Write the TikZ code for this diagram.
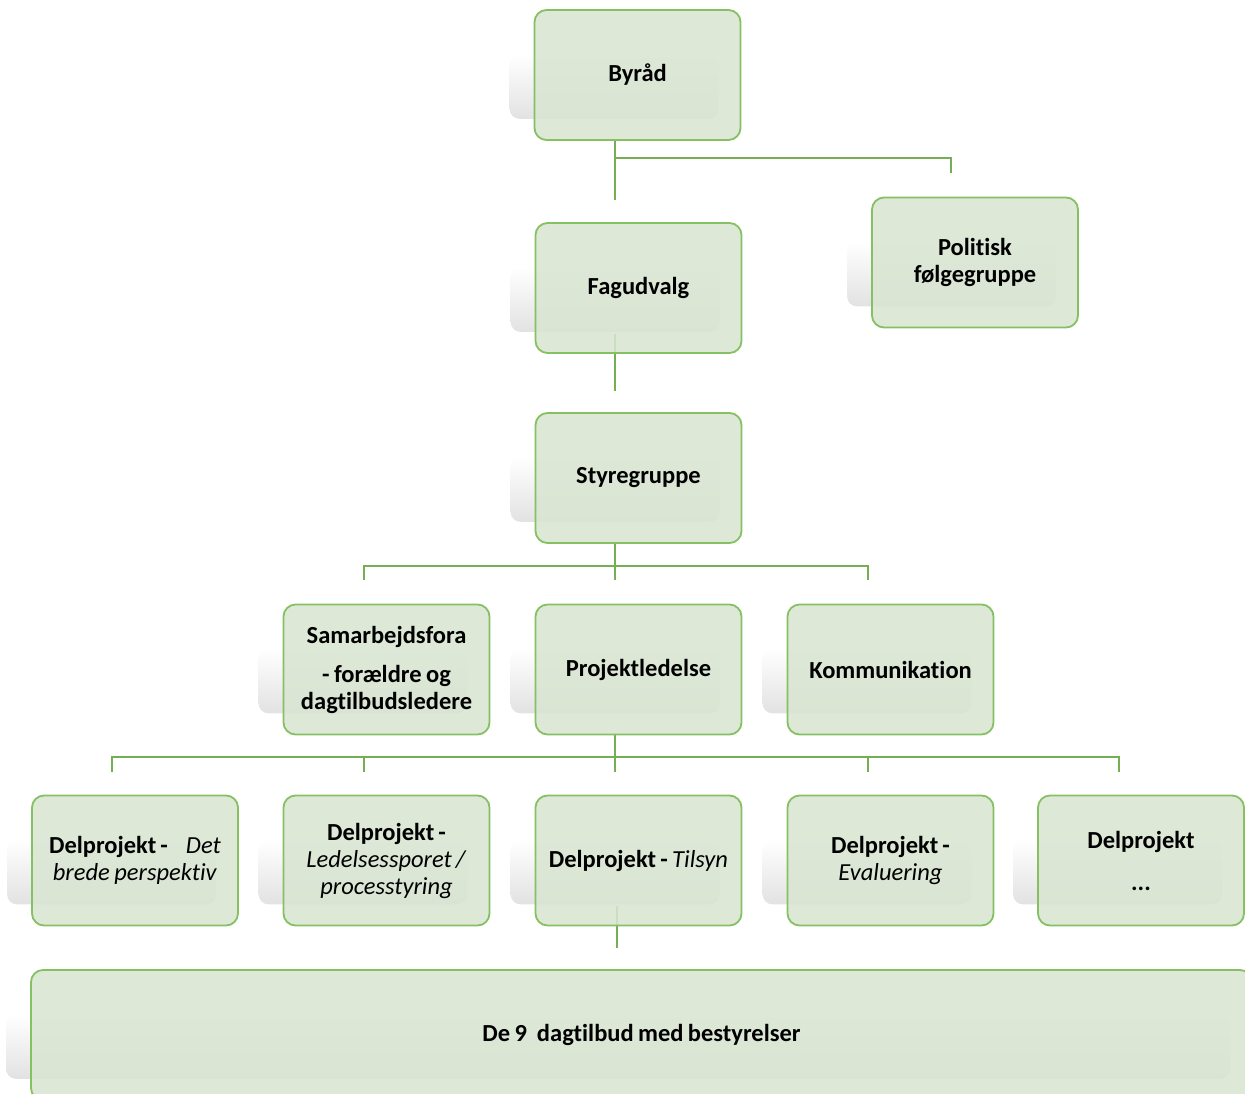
\documentclass[tikz,border=0pt]{standalone}
\usepackage{fontspec}
\setmainfont[Ligatures=NoCommon,WordSpace=0.8]{Carlito}
\usetikzlibrary{backgrounds,calc}
\definecolor{boxfill}{RGB}{217,229,210}
\definecolor{boxline}{RGB}{133,192,98}
\definecolor{conn}{RGB}{118,174,84}
\definecolor{shadowgray}{RGB}{226,226,226}
\newcommand{\boxfont}{\fontsize{24.5}{27}\selectfont\bfseries}
\tikzset{
  orgbox/.style={rounded corners=12pt, draw=boxline, line width=1.8pt, fill=boxfill,
    fill opacity=0.88, text opacity=1, minimum width=206pt, minimum height=130pt,
    text width=196pt, align=flush center, inner sep=0pt, font=\boxfont},
  link/.style={draw=conn, line width=2pt},
  shadowbox/.style={rounded corners=10pt, top color=white, bottom color=shadowgray}
}
\newcommand{\boxshadow}[1]{%
  \shade[shadowbox] ([xshift=-24pt,yshift=-45pt]#1.north west) rectangle ([xshift=-23pt,yshift=22pt]#1.south east);}
\begin{document}
\begin{tikzpicture}[x=1pt,y=-1pt]
\useasboundingbox (0,0) rectangle (1245,1094);
\clip (0,0) rectangle (1245,1094);
% nodes
\node[orgbox] (byrad) at (637.5,75) {Byråd};
\node[orgbox] (politisk) at (975,262.5) {Politisk\\følgegruppe};
\node[orgbox] (fag) at (638.5,288) {Fagudvalg};
\node[orgbox] (styre) at (638.5,478) {Styregruppe};
\node[orgbox] (samarb) at (386.5,669.5) {Samarbejdsfora\\[12pt]- forældre og\\dagtilbudsledere};
\node[orgbox] (projled) at (638.5,669.5) {Projektledelse};
\node[orgbox] (komm) at (890.5,669.5) {Kommunikation};
\node[orgbox] (dp1) at (135,860.5) {Delprojekt\,-\hspace{18pt}\textit{\mdseries Det}\\\textit{\mdseries brede perspektiv}};
\node[orgbox] (dp2) at (386.5,860.5) {Delprojekt\,-\\\textit{\mdseries Ledelsessporet\,/}\\\textit{\mdseries processtyring}};
\node[orgbox] (dp3) at (638.5,860.5) {Delprojekt\,- \textit{\mdseries Tilsyn}};
\node[orgbox] (dp4) at (890.5,860.5) {Delprojekt\,-\\\textit{\mdseries Evaluering}};
\node[orgbox] (dp5) at (1141,860.5) {Delprojekt\\[15pt]...};
\node[orgbox, minimum width=1221pt, text width=1200pt] (tilbud) at (641.5,1035) {De 9\hspace{10pt}dagtilbud med bestyrelser};
% coordinates for free ends
\coordinate (b1) at ($(byrad.south)+(-23,59)$);
\coordinate (b2) at ($(politisk.north)+(-24,-24)$);
\coordinate (f1) at ($(fag.south)+(-24,37)$);
\coordinate (s1) at ($(samarb.north)+(-23,-24)$);
\coordinate (s2) at ($(projled.north)+(-24,-24)$);
\coordinate (s3) at ($(komm.north)+(-23,-24)$);
\coordinate (p1) at ($(dp1.north)+(-23,-23)$);
\coordinate (p2) at ($(dp2.north)+(-23,-23)$);
\coordinate (p3) at ($(dp3.north)+(-24,-23)$);
\coordinate (p4) at ($(dp4.north)+(-23,-23)$);
\coordinate (p5) at ($(dp5.north)+(-22,-23)$);
\coordinate (t1) at ($(dp3.south)+(-22,22)$);
\begin{scope}[on background layer]
\boxshadow{byrad}\boxshadow{politisk}\boxshadow{fag}\boxshadow{styre}
\boxshadow{samarb}\boxshadow{projled}\boxshadow{komm}
\boxshadow{dp1}\boxshadow{dp2}\boxshadow{dp3}\boxshadow{dp4}\boxshadow{dp5}
\boxshadow{tilbud}
% connectors
\draw[link] ($(byrad.south)+(-23,0)$) -- (b1);
\draw[link] ($(byrad.south)+(-23,17)$) -| (b2);
\draw[link] ($(fag.south)+(-24,-20)$) -- (f1);
\draw[link] ($(styre.south)+(-24,0)$) -- (s2);
\draw[link] (s1) |- ($(styre.south)+(-24,22)$) -| (s3);
\draw[link] ($(projled.south)+(-24,0)$) -- (p3);
\draw[link] (p1) |- ($(projled.south)+(-24,22)$) -| (p5);
\draw[link] (p2) -- ++(0,-15);
\draw[link] (p4) -- ++(0,-15);
\draw[link] ($(dp3.south)+(-22,-20)$) -- (t1);
\end{scope}
\end{tikzpicture}
\end{document}
